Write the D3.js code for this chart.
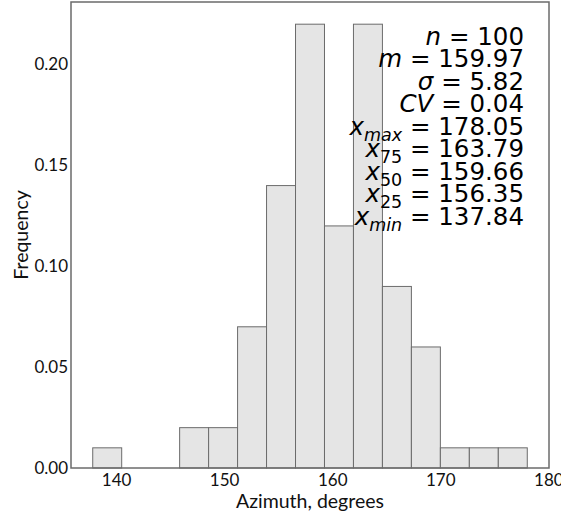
<!DOCTYPE html>
<html>
<head>
<meta charset="utf-8">
<script src="https://cdn.jsdelivr.net/npm/d3@7"></script>
<style>
  html, body { margin: 0; padding: 0; background: #fff; }
  svg { display: block; }
</style>
</head>
<body>
<svg id="chart" width="561" height="516"></svg>
<script>
// Histogram of azimuth values (relative frequency per bin)
const binStart = 137.84;
const binEnd = 178.05;
const binCount = 15;
const frequencies = [0.01, 0.00, 0.00, 0.02, 0.02, 0.07, 0.14, 0.22, 0.12, 0.22, 0.09, 0.06, 0.01, 0.01, 0.01];
const xTicks = [140, 150, 160, 170, 180];
const yTicks = [0.00, 0.05, 0.10, 0.15, 0.20];
const xLabel = "Azimuth, degrees";
const yLabel = "Frequency";

// Summary statistics shown in the upper-right corner
const statNames = ["n", "m", "σ", "CV", "x", "x", "x", "x", "x"];
const statSubs = ["", "", "", "", "max", "75", "50", "25", "min"];
const statSubItalic = [false, false, false, false, true, false, false, false, true];
const statValues = ["100", "159.97", "5.82", "0.04", "178.05", "163.79", "159.66", "156.35", "137.84"];

const binWidth = (binEnd - binStart) / binCount;
const bins = frequencies.map((f, i) => ({
  x0: binStart + i * binWidth,
  x1: binStart + (i + 1) * binWidth,
  f
}));

const plot = { left: 71, right: 549, top: 2, bottom: 468 };
const pad = (binEnd - binStart) * 0.05;
const yMax = d3.max(frequencies) * 1.05;

const x = d3.scaleLinear().domain([binStart - pad, binEnd + pad]).range([plot.left, plot.right]);
const y = d3.scaleLinear().domain([0, yMax]).range([plot.bottom, plot.top]);

const svg = d3.select("#chart");
const labelFont = "Lato, 'Open Sans', sans-serif";

// bars
svg.append("g")
  .selectAll("rect")
  .data(bins.filter(d => d.f > 0))
  .join("rect")
  .attr("x", d => x(d.x0))
  .attr("y", d => y(d.f))
  .attr("width", d => x(d.x1) - x(d.x0))
  .attr("height", d => y(0) - y(d.f))
  .attr("fill", "#e5e5e5")
  .attr("stroke", "#6b6b6b")
  .attr("stroke-width", 1);

// axes (no tick marks, labels only)
const xAxis = svg.append("g")
  .attr("transform", `translate(0,${plot.bottom})`)
  .call(d3.axisBottom(x).tickValues(xTicks).tickSize(0).tickPadding(0).tickFormat(d3.format("d")));
const yAxis = svg.append("g")
  .attr("transform", `translate(${plot.left},0)`)
  .call(d3.axisLeft(y).tickValues(yTicks).tickSize(0).tickPadding(3).tickFormat(d3.format(".2f")));

[xAxis, yAxis].forEach(g => {
  g.select(".domain").remove();
  g.selectAll("text")
    .attr("font-family", labelFont)
    .attr("font-size", 17)
    .attr("fill", "#111");
});
xAxis.selectAll("text").attr("y", 17.5).attr("dy", 0);

// frame
svg.append("rect")
  .attr("x", plot.left)
  .attr("y", plot.top)
  .attr("width", plot.right - plot.left)
  .attr("height", plot.bottom - plot.top)
  .attr("fill", "none")
  .attr("stroke", "#6b6b6b")
  .attr("stroke-width", 1.5);

// axis titles
svg.append("text")
  .attr("x", (plot.left + plot.right) / 2)
  .attr("y", 507.5)
  .attr("text-anchor", "middle")
  .attr("font-family", labelFont)
  .attr("font-size", 19.5)
  .attr("fill", "#111")
  .text(xLabel);

svg.append("text")
  .attr("transform", `translate(27.5,${(plot.top + plot.bottom) / 2}) rotate(-90)`)
  .attr("text-anchor", "middle")
  .attr("font-family", labelFont)
  .attr("font-size", 19.5)
  .attr("fill", "#111")
  .text(yLabel);

// statistics block, right aligned
const stats = svg.append("g")
  .attr("font-family", "'DejaVu Sans', sans-serif")
  .attr("font-size", 24.5)
  .attr("fill", "#000");

statNames.forEach((name, i) => {
  const t = stats.append("text")
    .attr("x", 524)
    .attr("y", 44.5 + i * 22.5)
    .attr("text-anchor", "end");
  t.append("tspan").attr("font-style", "italic").text(name);
  if (statSubs[i]) {
    t.append("tspan")
      .attr("font-size", 17.5)
      .attr("dy", 6)
      .attr("font-style", statSubItalic[i] ? "italic" : "normal")
      .text(statSubs[i]);
    t.append("tspan").attr("dy", -6).text(" = " + statValues[i]);
  } else {
    t.append("tspan").text(" = " + statValues[i]);
  }
});
</script>
</body>
</html>
